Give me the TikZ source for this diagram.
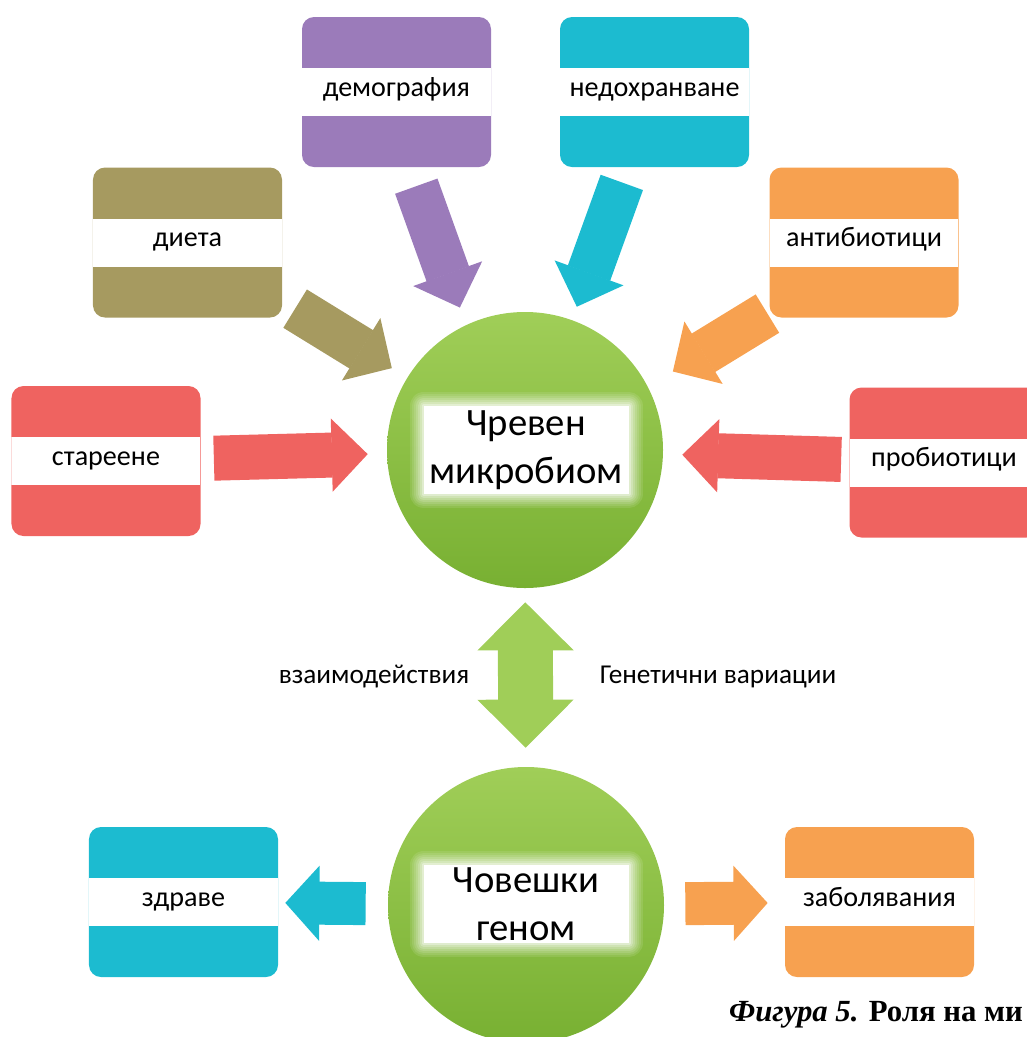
\documentclass[tikz,border=0pt]{standalone}
\usepackage{fontspec}
\setmainfont{Carlito}
\newfontfamily\capfont{Liberation Serif}
\usepackage{tikz}
\usetikzlibrary{arrows.meta}
\definecolor{mypurple}{RGB}{155,123,186}
\definecolor{mycyan}{RGB}{28,187,208}
\definecolor{myolive}{RGB}{166,154,96}
\definecolor{myorange}{RGB}{247,161,80}
\definecolor{myred}{RGB}{239,99,96}
\definecolor{mygreenlight}{RGB}{160,206,88}
\definecolor{mygreendark}{RGB}{120,176,50}
\tikzstyle{catbox}=[rectangle,rounded corners=0.24cm,fill=#1,minimum width=3.78cm,minimum height=3cm,inner sep=0pt,
  font=\fontsize{16}{18}\selectfont,text height=1ex,text depth=0pt,yshift=0pt,
  path picture={\fill[white,sharp corners] ([yshift=0.48cm]path picture bounding box.west) rectangle ([yshift=-0.48cm]path picture bounding box.east);}]
\tikzstyle{hub}=[circle,minimum size=5.52cm,inner sep=0pt,top color=mygreenlight,bottom color=mygreendark]

\begin{document}
\begin{tikzpicture}[
  x=0.2mm, y=-0.2mm,
  hubtext/.style={
    fill=white,
    minimum width=4.1cm,
    minimum height=#1,
    inner sep=0pt,
    align=center,
    line join=round,
    font=\fontsize{22}{27}\selectfont,
    preaction={draw=white,draw opacity=0.1,line width=0.56cm},
    preaction={draw=white,draw opacity=0.1,line width=0.48cm},
    preaction={draw=white,draw opacity=0.12,line width=0.4cm},
    preaction={draw=white,draw opacity=0.14,line width=0.32cm},
    preaction={draw=white,draw opacity=0.18,line width=0.24cm},
    preaction={draw=white,draw opacity=0.24,line width=0.16cm},
    preaction={draw=white,draw opacity=0.35,line width=0.08cm}
    },
  flow/.style={
    draw=#1,
    line width=0.9cm,
    -{Triangle[length=7.2mm,width=14.6mm,line width=0.8pt]}
    },
  outflow/.style={
    draw=#1,
    line width=0.86cm,
    -{Triangle[length=6.8mm,width=15mm,line width=0.8pt]}
    },
  midlabel/.style={font=\fontsize{15.5}{18}\selectfont}
]
\path[use as bounding box,clip] (0,0) rectangle (1027,1037);

% the two circles
\node [hub] (mikrobiom) at (525,450) {};
\node [hubtext=1.75cm] (mikrobiomtext) at (526,450) {Чревен\\микробиом};
\node [hub] (genom) at (526,905) {};
\node [hubtext=1.55cm] (genomtext) at (526,904) {Човешки\\геном};

% factors
\node [catbox=mypurple] (demografia) at (396.5,92) {демография};
\node [catbox=mycyan] (nedohranvane) at (654.5,92) {недохранване};
\node [catbox=myolive] (dieta) at (187.5,242.5) {диета};
\node [catbox=myorange] (antibiotici) at (864,242.5) {антибиотици};
\node [catbox=myred] (stareene) at (106,461) {стареене};
\node [catbox=myred] (probiotici) at (944,462.5) {пробиотици};
\node [catbox=mycyan] (zdrave) at (183.5,902) {здраве};
\node [catbox=myorange] (zabolyavania) at (879.5,902) {заболявания};

\draw [flow=mypurple,shorten <=4mm,shorten >=2.6mm,transform canvas={xshift=-2.8mm}] (demografia) -- (mikrobiom);
\draw [flow=mycyan,shorten <=3.2mm,shorten >=2.8mm] (nedohranvane) -- (mikrobiom);
\draw [flow=myolive,shorten <=3mm,shorten >=3.6mm] (dieta) -- (mikrobiom);
\draw [flow=myorange,shorten <=0.4mm,shorten >=7mm,transform canvas={yshift=-2.4mm}] (antibiotici) -- (mikrobiom);
\draw [flow=myred,shorten <=2.6mm,shorten >=3.8mm] (stareene) -- (mikrobiom);
\draw [flow=myred,shorten <=1.6mm,shorten >=3.8mm] (probiotici) -- (mikrobiom);

% interaction
\draw [draw=mygreenlight,line width=1.1cm,
  {Triangle[length=9.6mm,width=19.2mm,line width=0.8pt]}-{Triangle[length=9.6mm,width=19.2mm,line width=0.8pt]},
  shorten <=2.8mm,shorten >=3.8mm] (mikrobiom) -- (genom);
\node [midlabel] (vzaimo) at (374,677) {взаимодействия};
\node [midlabel] (variacii) at (718,677) {Генетични вариации};

\draw [outflow=mycyan,shorten <=4.4mm,shorten >=1.4mm] (genom) -- (zdrave);
\draw [outflow=myorange,shorten <=4.2mm,shorten >=3.4mm] (genom) -- (zabolyavania);

\node [anchor=base east,font=\capfont\bfseries\fontsize{17.5}{20}\selectfont] (caption) at (1029,1021)
  {\textit{Фигура 5.} Роля на ми};
\end{tikzpicture}
\end{document}
